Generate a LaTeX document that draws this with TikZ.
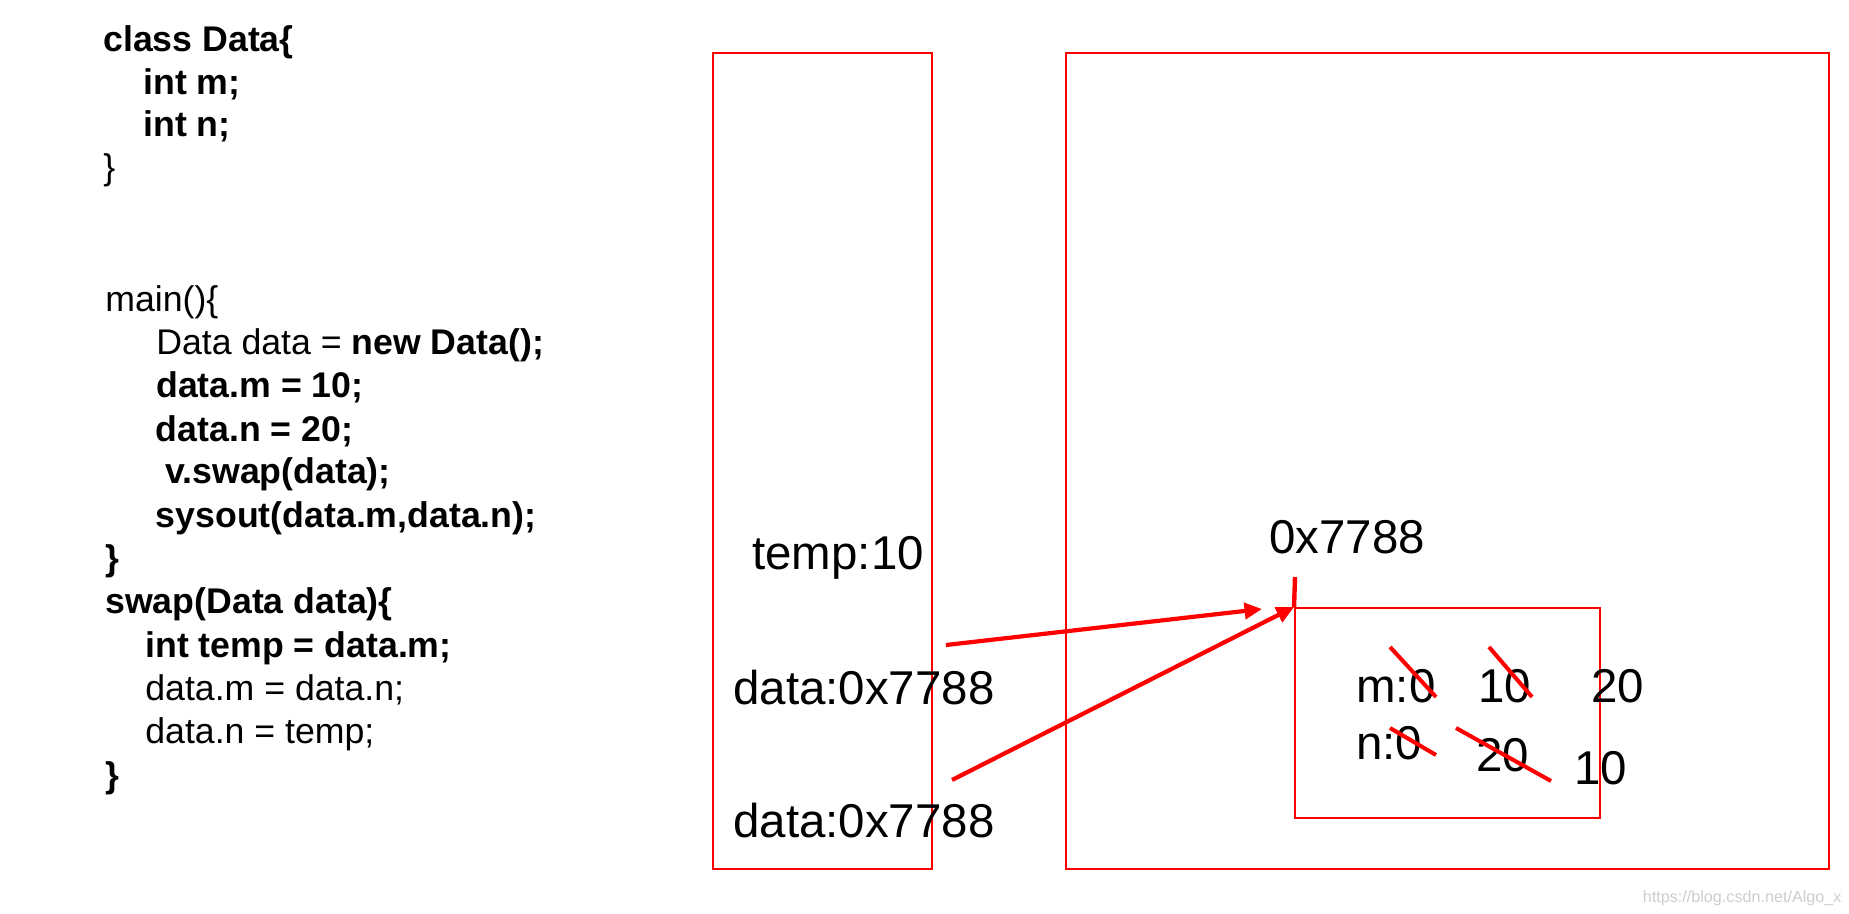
\documentclass[tikz,border=0pt]{standalone}
\usepackage{fontspec}
\setmainfont{Liberation Sans}
\usepackage{tikz}
\usetikzlibrary{arrows.meta,positioning}
\definecolor{memred}{RGB}{255,0,0}
\definecolor{wmgray}{RGB}{205,205,205}

\begin{document}
\begin{tikzpicture}[
  code/.style={anchor=base west, inner sep=0pt, font=\fontsize{20.3}{24}\selectfont},
  mem/.style={anchor=base west, inner sep=0pt, font=\fontsize{27}{32}\selectfont},
  area/.style={draw=memred, rectangle, line width=1.1pt, inner sep=0pt},
  strike/.style={memred, line width=2.3pt},
  >={Triangle[length=3.5mm, width=3.2mm]},
  ptr/.style={->, memred, line width=2.4pt},
]
\useasboundingbox (0,0) rectangle (36.98,18.26);

% ============ class Data ============
\node[code] (cls)  at (2.06,17.22) {\textbf{class Data\{}};
\node[code] (clsm) at (2.86,16.36) {\textbf{int m;}};
\node[code] (clsn) at (2.86,15.52) {\textbf{int n;}};
\node[code] (clse) at (2.06,14.66) {\}};

% ============ main() ============
\node[code] (mn)   at (2.10,12.02) {main()\{};
\node[code] (mn1)  at (3.12,11.18) {Data data = \textbf{new Data();}};
\node[code] (mn2)  at (3.12,10.32) {\textbf{data.m = 10;}};
\node[code] (mn3)  at (3.11,9.44)  {\textbf{data.n = 20;}};
\node[code] (mn4)  at (3.30,8.60)  {\textbf{v.swap(data);}};
\node[code] (mn5)  at (3.11,7.72)  {\textbf{sysout(data.m,data.n);}};
\node[code] (mne)  at (2.10,6.86)  {\textbf{\}}};

% ============ swap(Data data) ============
\node[code] (sw)   at (2.10,6.00)  {\textbf{swap(Data data)\{}};
\node[code] (sw1)  at (2.90,5.12)  {\textbf{int temp = data.m;}};
\node[code] (sw2)  at (2.90,4.26)  {data.m = data.n;};
\node[code] (sw3)  at (2.90,3.40)  {data.n = temp;};
\node[code] (swe)  at (2.10,2.52)  {\textbf{\}}};

% ============ stack (swap frame) ============
\node[area, minimum width=4.38cm, minimum height=16.32cm] (stack) at (16.45,9.04) {};
\node[mem] (temp)  at (15.04,6.88) {temp:10};
\node[mem] (data1) at (14.66,4.18) {data:0x7788};
\node[mem] (data2) at (14.66,1.52) {data:0x7788};

% ============ heap ============
\node[area, minimum width=15.26cm, minimum height=16.32cm] (heap) at (28.95,9.04) {};
\node[area, minimum width=6.10cm, minimum height=4.20cm] (obj) at (28.95,4.00) {};
\node[mem] (addr) at (25.38,7.20) {0x7788};

% fields of the object
\node[mem] (m0)  at (27.12,4.22) {m:0};
\node[mem] (m10) at (29.56,4.22) {10};
\node[mem] (m20) at (31.82,4.22) {20};
\node[mem] (n0)  at (27.12,3.08) {n:0};
\node[mem] (n20) at (29.52,2.84) {20};
\node[mem] (n10) at (31.48,2.58) {10};

% crossed out values
\draw[strike] (27.80,5.32) -- (28.72,4.32);
\draw[strike] (29.78,5.32) -- (30.64,4.32);
\draw[strike] (27.80,3.70) -- (28.72,3.16);
\draw[strike] (29.12,3.70) -- (31.02,2.64);

% ===================== POINTERS =====================
\coordinate (tick) at (25.90,6.72);
\draw[memred, line width=2.5pt] (tick) -- (obj.north west);

\coordinate (p1) at (18.92,5.36);
\coordinate (p1end) at (25.24,6.08);
\draw[ptr] (p1) -- (p1end);

\coordinate (p2) at (19.04,2.66);
\draw[ptr] (p2) -- (obj.north west);

% watermark
\node[anchor=base west, inner sep=0pt, font=\fontsize{9.2}{11}\selectfont, text=wmgray] (wm) at (32.85,0.22) {https://blog.csdn.net/Algo\_x};

\end{tikzpicture}
\end{document}
